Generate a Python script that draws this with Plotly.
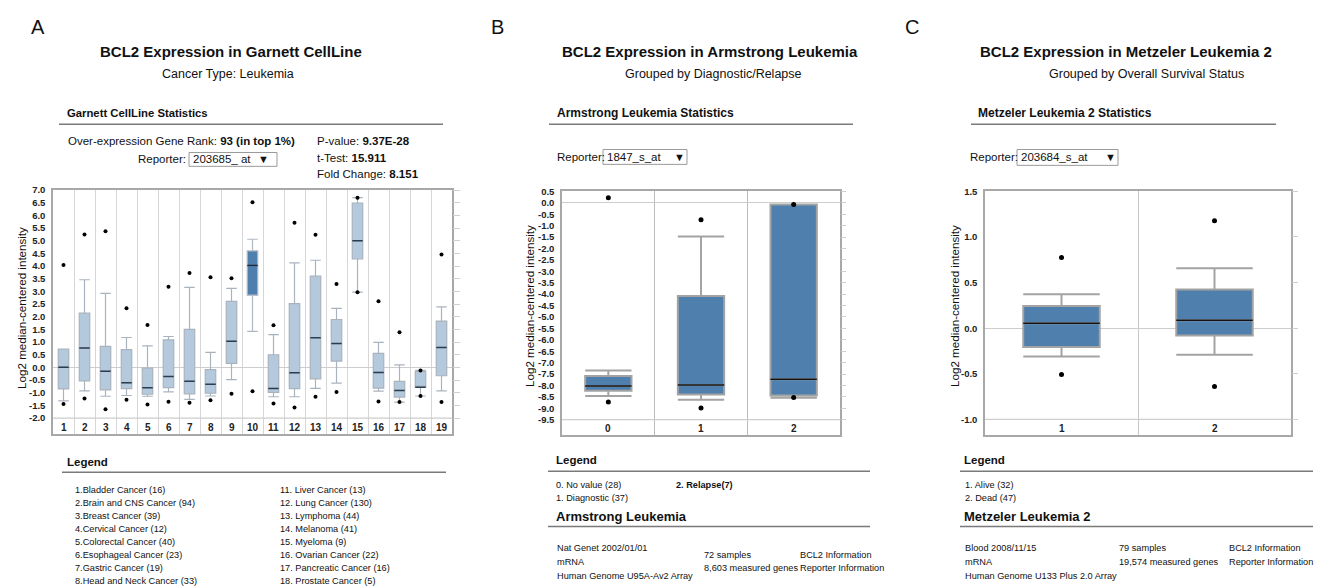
import plotly.graph_objects as go

FONT = "Liberation Sans"
W, H = 1324, 586

# ---------------- Panel A: Garnett CellLine (19 cancer types) ----------------
a_cats = list(range(1, 20))
a_q1 = [-0.85, -0.53, -0.89, -0.84, -1.06, -0.80, -1.05, -1.02, 0.16, 2.85,
        -0.99, -0.84, -0.45, 0.25, 4.28, -0.82, -1.17, -0.78, -0.33]
a_med = [0.01, 0.77, -0.15, -0.61, -0.80, -0.36, -0.55, -0.67, 1.03, 4.02,
         -0.83, -0.21, 1.17, 0.94, 5.00, -0.20, -0.91, -0.78, 0.79]
a_q3 = [0.72, 2.14, 0.83, 0.70, -0.03, 1.09, 1.50, -0.09, 2.61, 4.60,
        0.50, 2.52, 3.60, 1.89, 6.49, 0.55, -0.55, -0.16, 1.83]
a_lo = [-1.32, -0.93, -1.14, -1.11, -1.14, -0.97, -1.26, -1.13, -0.48, 1.42,
        -1.16, -1.16, -0.83, -0.62, 2.97, -0.94, -1.37, -1.13, -0.93]
a_hi = [0.72, 3.46, 2.92, 1.18, 0.85, 1.22, 3.16, 0.59, 3.12, 5.06,
        1.29, 4.13, 4.23, 2.33, 6.70, 0.99, 0.10, -0.12, 2.39]
a_out_hi = [4.04, 5.25, 5.38, 2.34, 1.67, 3.18, 3.73, 3.56, 3.52, 6.52,
            1.66, 5.71, 5.24, 3.29, 6.70, 2.61, 1.39, -0.12, 4.46]
a_out_lo = [-1.45, -1.23, -1.65, -1.28, -1.47, -1.36, -1.40, -1.30, -1.04, -0.94,
            -1.43, -1.58, -1.16, -0.97, 2.97, -1.35, -1.37, -1.13, -1.37]
a_highlight = 10
a_legend_left = ["1.Bladder Cancer (16)", "2.Brain and CNS Cancer (94)", "3.Breast Cancer (39)",
                 "4.Cervical Cancer (12)", "5.Colorectal Cancer (40)", "6.Esophageal Cancer (23)",
                 "7.Gastric Cancer (19)", "8.Head and Neck Cancer (33)"]
a_legend_right = ["11. Liver Cancer (13)", "12. Lung Cancer (130)", "13. Lymphoma (44)",
                  "14. Melanoma (41)", "15. Myeloma (9)", "16. Ovarian Cancer (22)",
                  "17. Pancreatic Cancer (16)", "18. Prostate Cancer (5)"]

# ---------------- Panel B: Armstrong Leukemia ----------------
b_cats = [0, 1, 2]
b_q1 = [-8.23, -8.40, -8.44]
b_med = [-8.02, -7.98, -7.73]
b_q3 = [-7.59, -4.08, -0.07]
b_lo = [-8.46, -8.62, -8.54]
b_hi = [-7.34, -1.48, -0.07]
b_out_hi = [0.22, -0.74, -0.07]
b_out_lo = [-8.72, -8.99, -8.53]

# ---------------- Panel C: Metzeler Leukemia 2 ----------------
c_cats = [1, 2]
c_q1 = [-0.207, -0.080]
c_med = [0.054, 0.087]
c_q3 = [0.243, 0.424]
c_lo = [-0.310, -0.290]
c_hi = [0.373, 0.656]
c_out_hi = [0.775, 1.178]
c_out_lo = [-0.507, -0.638]

LIGHT = "#b5c9dd"
DARK = "#4f7fad"
SMALL = 9.2


def px(x):
    return x / W


def py(y):
    return 1 - y / H


fig = go.Figure()


def add_boxes(cats, q1, med, q3, lo, hi, fill, line_col, med_col, xa, ya, lw=1.2, medw=1.5):
    fig.add_trace(go.Box(x=cats, q1=q1, median=med, q3=q3, lowerfence=lo, upperfence=hi,
                         orientation="v", width=0.5, whiskerwidth=1, fillcolor=fill,
                         line=dict(color=line_col, width=lw), boxpoints=False,
                         xaxis=xa, yaxis=ya, hoverinfo="skip"))
    fig.add_trace(go.Box(x=cats, q1=med, median=med, q3=med, lowerfence=med, upperfence=med,
                         orientation="v", width=0.5, whiskerwidth=0, fillcolor="rgba(0,0,0,0)",
                         line=dict(color=med_col, width=medw), boxpoints=False,
                         xaxis=xa, yaxis=ya, hoverinfo="skip"))


# Panel A boxes
idx_l = [i for i, c in enumerate(a_cats) if c != a_highlight]
idx_d = [i for i, c in enumerate(a_cats) if c == a_highlight]
pick = lambda arr, idx: [arr[i] for i in idx]
add_boxes(pick(a_cats, idx_l), pick(a_q1, idx_l), pick(a_med, idx_l), pick(a_q3, idx_l),
          pick(a_lo, idx_l), pick(a_hi, idx_l), LIGHT, "#a9b3be", "#2b3c50", "x", "y")
add_boxes(pick(a_cats, idx_d), pick(a_q1, idx_d), pick(a_med, idx_d), pick(a_q3, idx_d),
          pick(a_lo, idx_d), pick(a_hi, idx_d), DARK, "#b0b8c2", "#1d2c3c", "x", "y")
fig.add_trace(go.Scatter(x=a_cats + a_cats, y=a_out_hi + a_out_lo, mode="markers",
                         marker=dict(color="black", size=4), xaxis="x", yaxis="y", hoverinfo="skip"))

# Panel B
add_boxes(b_cats, b_q1, b_med, b_q3, b_lo, b_hi, DARK, "#a3a3a3", "#111111", "x2", "y2", lw=2)
fig.add_trace(go.Scatter(x=b_cats + b_cats, y=b_out_hi + b_out_lo, mode="markers",
                         marker=dict(color="black", size=5), xaxis="x2", yaxis="y2", hoverinfo="skip"))

# Panel C
add_boxes(c_cats, c_q1, c_med, c_q3, c_lo, c_hi, DARK, "#a3a3a3", "#111111", "x3", "y3", lw=2)
fig.add_trace(go.Scatter(x=c_cats + c_cats, y=c_out_hi + c_out_lo, mode="markers",
                         marker=dict(color="black", size=5), xaxis="x3", yaxis="y3", hoverinfo="skip"))

# empty traces so the right-hand tick axes are drawn
for xa, ya in (("x", "y4"), ("x2", "y5"), ("x3", "y6")):
    fig.add_trace(go.Scatter(x=[None], y=[None], mode="markers", xaxis=xa, yaxis=ya,
                             hoverinfo="skip", showlegend=False))


def yticks(lo, hi):
    n = int(round((hi - lo) / 0.5))
    vals = [round(lo + 0.5 * k, 2) for k in range(n + 1)]
    return vals, [f"{v:.1f}" for v in vals]


tickfont = dict(family=FONT, size=9.5, color="#222", weight="bold")
BORDER = "#a8a8a8"


def xax(dom, rng, cats, grid, anchor):
    return dict(domain=dom, range=rng, anchor=anchor, tickvals=[c + 0.5 for c in cats[:-1]],
                showticklabels=False, ticks="", showgrid=True, gridcolor=grid, gridwidth=1.2,
                zeroline=False, showline=True, linecolor=BORDER, linewidth=1.5, mirror=True,
                fixedrange=True)


def yax(dom, rng, lo, hi, anchor):
    tv, tt = yticks(lo, hi)
    return dict(domain=dom, range=rng, anchor=anchor, tickmode="array", tickvals=tv, ticktext=tt,
                ticks="", ticklabelstandoff=4, tickfont=tickfont, showgrid=False, zeroline=True,
                zerolinecolor="#cdcdcd", zerolinewidth=1.2, showline=True, linecolor=BORDER,
                linewidth=1.5, mirror=True)


def yax_right(over, rng, lo, hi, anchor, tl):
    tv, _ = yticks(lo, hi)
    return dict(overlaying=over, side="right", anchor=anchor, range=rng, tickmode="array",
                tickvals=tv, ticks="outside", ticklen=tl, tickcolor="#cfcfcf", tickwidth=1.2,
                showticklabels=False, showgrid=False, zeroline=False, showline=False)


yA = [py(432.3), py(186)]
yBC = [py(433.3), py(187.3)]
rA = [-2.625, 7.0]
rB = [-10.163, 0.5]
rC = [-1.169, 1.5]

layout = dict(
    width=W, height=H, margin=dict(l=0, r=0, t=0, b=0),
    paper_bgcolor="white", plot_bgcolor="white", showlegend=False, boxmode="overlay",
    xaxis=xax([px(53), px(452)], [0.5, 19.5], a_cats, "#d6d6d6", "y"),
    yaxis=yax(yA, rA, -2.0, 7.0, "x"),
    xaxis2=xax([px(562), px(840)], [-0.5, 2.5], b_cats, "#bdbdbd", "y2"),
    yaxis2=yax(yBC, rB, -9.5, 0.5, "x2"),
    xaxis3=xax([px(985), px(1291)], [0.5, 2.5], c_cats, "#c8c8c8", "y3"),
    yaxis3=yax(yBC, rC, -1.0, 1.5, "x3"),
    yaxis4=yax_right("y", rA, -2.0, 7.0, "x", 7),
    yaxis5=yax_right("y2", rB, -9.5, 0.5, "x2", 5),
    yaxis6=yax_right("y3", rC, -1.0, 1.5, "x3", 6),
)
fig.update_layout(**layout)

ann = []
shapes = []


def T(text, x, y, size=11.5, bold=False, anchor="left", angle=0, color="#111"):
    ann.append(dict(text=f"<b>{text}</b>" if bold else text, x=px(x), y=py(y),
                    xref="paper", yref="paper", xanchor=anchor, yanchor="middle",
                    showarrow=False, textangle=angle,
                    font=dict(family=FONT, size=size, color=color)))


def rule(x0, x1, y, color="#7a7a7a", w=1.5):
    shapes.append(dict(type="line", xref="paper", yref="paper", x0=px(x0), x1=px(x1),
                       y0=py(y), y1=py(y), line=dict(color=color, width=w)))


def rect(x0, x1, y0, y1):
    shapes.append(dict(type="rect", xref="paper", yref="paper", x0=px(x0), x1=px(x1),
                       y0=py(y1), y1=py(y0), line=dict(color="#9a9a9a", width=1),
                       fillcolor="white", layer="below"))


def baseline(xref, yval, color="#cdcdcd"):
    shapes.append(dict(type="line", xref=f"{xref} domain", yref=xref.replace("x", "y"),
                       x0=0, x1=1, y0=yval, y1=yval, line=dict(color=color, width=1.2)))


def cat_labels(cats, xref, yref):
    for c in cats:
        ann.append(dict(text=f"<b>{c}</b>", x=c, y=0.026, xref=xref, yref=f"{yref} domain",
                        xanchor="center", yanchor="middle", showarrow=False,
                        font=dict(family=FONT, size=10, color="#222")))


# ----- Panel A texts -----
T("A", 38, 21, 20, anchor="center")
T("BCL2 Expression in Garnett CellLine", 231, 46, 15, True, "center")
T("Cancer Type: Leukemia", 228, 69, 12.5, anchor="center")
T("Garnett CellLine Statistics", 65, 108.5, 11.3, True)
rule(59, 443, 119.5)
T("Over-expression Gene Rank: <b>93 (in top 1%)</b>", 66, 136.5, 11.5)
T("Reporter:", 136, 154.5, 11.5)
rect(189, 277, 148, 162)
T("203685_ at", 191, 154.5, 11.5)
T("▼", 263, 154.5, 11, anchor="center")
T("P-value: <b>9.37E-28</b>", 315, 136.5, 11.5)
T("t-Test: <b>15.911</b>", 315, 153.5, 11.5)
T("Fold Change: <b>8.151</b>", 315, 169.5, 11.5)
T("Log2 median-centered intensity", 22, 305, 11.6, anchor="center", angle=-90)
T("Legend", 65, 461, 11.5, True)
rule(62, 446, 471)
for i, s in enumerate(a_legend_left):
    T(s, 73, 489.5 + 13.05 * i, SMALL)
for i, s in enumerate(a_legend_right):
    T(s, 278, 489.5 + 13.05 * i, SMALL)
baseline("x", -2.0)
cat_labels(a_cats, "x", "y")

# ----- Panel B texts -----
T("B", 498, 21, 20, anchor="center")
T("BCL2 Expression in Armstrong Leukemia", 710, 46, 15, True, "center")
T("Grouped by Diagnostic/Relapse", 713, 69, 12.5, anchor="center")
T("Armstrong Leukemia Statistics", 555, 108.5, 12, True)
rule(549, 853, 119.5)
T("Reporter:", 555, 152.5, 11.5)
rect(603, 687, 145, 160)
T("1847_s_at", 605, 152.5, 11.5)
T("▼", 679, 152.5, 11, anchor="center")
T("Log2 median-centered intensity", 530, 303, 11.6, anchor="center", angle=-90)
T("Legend", 554, 459, 11.5, True)
rule(548, 870, 470)
T("0. No value (28)", 554, 484, SMALL)
T("2. Relapse(7)", 674, 484, SMALL, True)
T("1. Diagnostic (37)", 554, 497, SMALL)
T("Armstrong Leukemia", 554, 516, 13, True)
rule(548, 870, 526)
T("Nat Genet 2002/01/01", 555, 548, SMALL)
T("mRNA", 555, 562, SMALL)
T("Human Genome U95A-Av2 Array", 555, 576, SMALL)
T("72 samples", 702, 555, SMALL)
T("8,603 measured genes", 702, 568, SMALL)
T("BCL2 Information", 798, 555, SMALL)
T("Reporter Information", 798, 568, SMALL)
baseline("x2", -9.5)
cat_labels(b_cats, "x2", "y2")

# ----- Panel C texts -----
T("C", 912, 21, 20, anchor="center")
T("BCL2 Expression in Metzeler Leukemia 2", 1126, 46, 15, True, "center")
T("Grouped by Overall Survival Status", 1146, 69, 12.5, anchor="center")
T("Metzeler Leukemia 2 Statistics", 976, 108.5, 12, True)
rule(971, 1276, 119.5)
T("Reporter:", 968, 152.5, 11.5)
rect(1017, 1118, 145, 161)
T("203684_s_at", 1019, 152.5, 11.5)
T("▼", 1110, 152.5, 11, anchor="center")
T("Log2 median-centered intensity", 955, 303, 11.6, anchor="center", angle=-90)
T("Legend", 962, 459, 11.5, True)
rule(960, 1313, 470)
T("1. Alive (32)", 963, 484, SMALL)
T("2. Dead (47)", 963, 497, SMALL)
T("Metzeler Leukemia 2", 962, 516, 13, True)
rule(960, 1313, 526)
T("Blood 2008/11/15", 963, 548, SMALL)
T("mRNA", 963, 562, SMALL)
T("Human Genome U133 Plus 2.0 Array", 963, 576, SMALL)
T("79 samples", 1117, 548, SMALL)
T("19,574 measured genes", 1117, 562, SMALL)
T("BCL2 Information", 1227, 548, SMALL)
T("Reporter Information", 1227, 562, SMALL)
baseline("x3", -1.0)
cat_labels(c_cats, "x3", "y3")

fig.update_layout(annotations=ann, shapes=shapes)
fig.write_html("out.html")
